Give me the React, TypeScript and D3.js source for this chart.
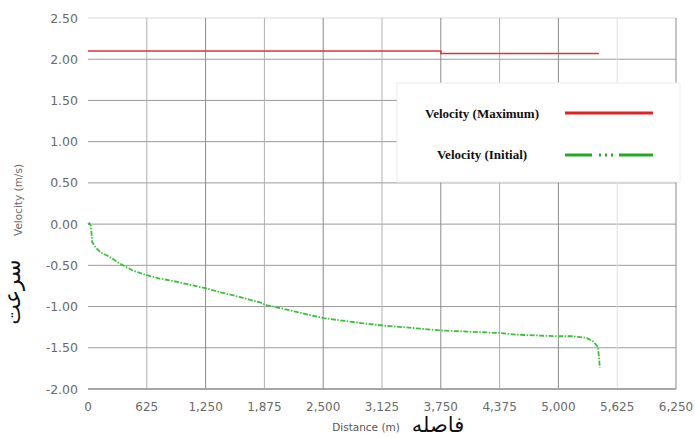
import React from "react";
import * as d3 from "d3";

const xTicks = [0, 625, 1250, 1875, 2500, 3125, 3750, 4375, 5000, 5625, 6250];
const yTicks = [2.5, 2.0, 1.5, 1.0, 0.5, 0.0, -0.5, -1.0, -1.5, -2.0];

const maxDistance = [0, 3750, 3750, 5430];
const maxVelocity = [2.1, 2.1, 2.07, 2.07];

const initDistance = [0, 15, 30, 45, 80, 130, 234, 300, 373, 470, 625, 760, 948, 1100, 1256, 1420, 1600, 1725, 1831, 1885, 2050, 2200, 2350, 2502, 2700, 2900, 3130, 3350, 3550, 3748, 3950, 4150, 4365, 4550, 4750, 4993, 5150, 5300, 5377, 5420, 5430, 5440];
const initVelocity = [0, 0.01, -0.02, -0.22, -0.28, -0.34, -0.4, -0.45, -0.5, -0.56, -0.62, -0.66, -0.7, -0.74, -0.78, -0.83, -0.88, -0.92, -0.95, -0.98, -1.02, -1.06, -1.1, -1.14, -1.17, -1.2, -1.23, -1.25, -1.27, -1.29, -1.3, -1.31, -1.32, -1.34, -1.35, -1.36, -1.36, -1.38, -1.43, -1.49, -1.6, -1.74];

const legendLabels = ["Velocity (Maximum)", "Velocity (Initial)"];

const W = 695;
const H = 438;
const margin = { left: 88, right: 19, top: 18, bottom: 49 };

export default function App() {
  const x = d3.scaleLinear().domain([0, 6250]).range([margin.left, W - margin.right]);
  const y = d3.scaleLinear().domain([-2, 2.5]).range([H - margin.bottom, margin.top]);

  const line = d3
    .line<[number, number]>()
    .x((d) => x(d[0]))
    .y((d) => y(d[1]));

  const maxPts = maxDistance.map((d, i) => [d, maxVelocity[i]] as [number, number]);
  const initPts = initDistance.map((d, i) => [d, initVelocity[i]] as [number, number]);

  const tickFont = "'DejaVu Sans', sans-serif";
  const x0 = margin.left;
  const x1 = W - margin.right;
  const yTop = margin.top;
  const yBot = H - margin.bottom;

  // legend box
  const lg = { x: 397, y: 83, w: 283, h: 99 };

  return (
    <svg
      width={W}
      height={H}
      style={{ position: "absolute", left: 0, top: 0, background: "#fff" }}
    >
      {/* horizontal grid */}
      {yTicks.map((t) => (
        <line
          key={"h" + t}
          x1={x0}
          x2={x1}
          y1={y(t)}
          y2={y(t)}
          stroke={t === 2.5 ? "#d8d8d8" : "#9a9a9a"}
          strokeWidth={1}
        />
      ))}
      {/* vertical grid */}
      {xTicks.slice(1).map((t, i) => (
        <line
          key={"v" + t}
          x1={x(t)}
          x2={x(t)}
          y1={yTop}
          y2={yBot}
          stroke={t === 6250 ? "#8a8a8a" : t === 5625 ? "#e0e0e0" : i % 2 === 0 ? "#b0b0b0" : "#8c8c8c"}
          strokeWidth={1}
        />
      ))}
      <line x1={x0} x2={x1} y1={yBot} y2={yBot} stroke="#9a9a9a" strokeWidth={1.5} />

      {/* y tick labels */}
      {yTicks.map((t) => (
        <text
          key={"yl" + t}
          x={78}
          y={y(t) + 4.5}
          textAnchor="end"
          fontFamily={tickFont}
          fontSize={12.5}
          fill="#6a6a6a"
        >
          {t.toFixed(2)}
        </text>
      ))}
      {/* x tick labels */}
      {xTicks.map((t) => (
        <text
          key={"xl" + t}
          x={x(t)}
          y={411}
          textAnchor="middle"
          fontFamily={tickFont}
          fontSize={12}
          fill="#6a6a6a"
        >
          {d3.format(",")(t)}
        </text>
      ))}

      {/* axis titles */}
      <text
        transform="translate(22,200) rotate(-90)"
        textAnchor="middle"
        fontFamily={tickFont}
        fontSize={10.5}
        fill="#6a6a6a"
      >
        Velocity (m/s)
      </text>
      <text
        transform="translate(20,292) rotate(-90)"
        textAnchor="middle"
        fontFamily="'DejaVu Sans', sans-serif"
        fontSize={22}
        fill="#111"
      >
        سرعت
      </text>
      <text
        x={366}
        y={431}
        textAnchor="middle"
        fontFamily={tickFont}
        fontSize={10.5}
        fill="#555"
      >
        Distance (m)
      </text>
      <text
        x={438}
        y={432}
        textAnchor="middle"
        fontFamily="'DejaVu Sans', sans-serif"
        fontSize={21}
        fill="#111"
      >
        فاصله
      </text>

      {/* series */}
      <path d={line(maxPts) ?? ""} fill="none" stroke="#e0333a" strokeWidth={1.6} />
      <path
        d={line(initPts) ?? ""}
        fill="none"
        stroke="#3cc03c"
        strokeWidth={1.8}
        strokeDasharray="5,1.5,1.5,1.5"
      />

      {/* legend */}
      <rect
        x={lg.x}
        y={lg.y}
        width={lg.w}
        height={lg.h}
        fill="#fff"
        stroke="#ececec"
        strokeWidth={1}
      />
      <text
        x={482}
        y={118}
        textAnchor="middle"
        fontFamily="'Liberation Serif', serif"
        fontWeight="bold"
        fontSize={13}
        fill="#111"
      >
        {legendLabels[0]}
      </text>
      <line x1={565} x2={653} y1={113} y2={113} stroke="#e82020" strokeWidth={3} />
      <text
        x={482}
        y={159}
        textAnchor="middle"
        fontFamily="'Liberation Serif', serif"
        fontWeight="bold"
        fontSize={13}
        fill="#111"
      >
        {legendLabels[1]}
      </text>
      <line
        x1={565}
        x2={653}
        y1={155}
        y2={155}
        stroke="#22aa22"
        strokeWidth={3}
        strokeDasharray="27,7,2,4,2,4,2,6,34"
      />
    </svg>
  );
}
